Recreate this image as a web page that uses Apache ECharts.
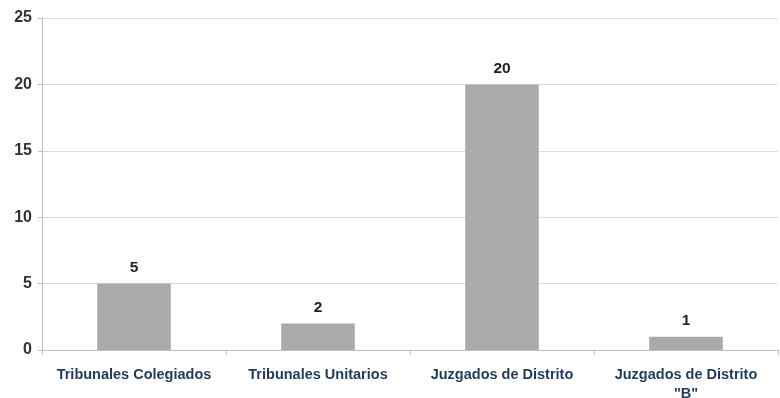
<!DOCTYPE html>
<html><head><meta charset="utf-8">
<script src="https://cdn.jsdelivr.net/npm/echarts@6/dist/echarts.min.js"></script>
<style>html,body{margin:0;padding:0;background:#fff}#c{width:780px;height:398px}</style>
</head><body><div id="c"></div>
<script>
const categories = ['Tribunales Colegiados', 'Tribunales Unitarios', 'Juzgados de Distrito', 'Juzgados de Distrito\n"B"'];
const values = [5, 2, 20, 1];
const yTicks = [0, 5, 10, 15, 20, 25];

const chart = echarts.init(document.getElementById('c'));
chart.setOption({
  animation: false,
  grid: {left: 42, right: 2, top: 18, bottom: 48, outerBoundsMode: 'none', containLabel: false},
  xAxis: {
    type: 'category', data: categories,
    axisLine: {lineStyle: {color: '#bfbfbf', width: 1}},
    axisTick: {show: true, length: 5, lineStyle: {color: '#bfbfbf'}},
    axisLabel: {interval: 0, hideOverlap: false, color: '#1f3b5c', fontWeight: 'bold', fontSize: 14.5, fontFamily: 'Liberation Sans, Arial', margin: 15, lineHeight: 19}
  },
  yAxis: {
    type: 'value', min: yTicks[0], max: yTicks[yTicks.length-1], interval: 5,
    axisLine: {show: true, lineStyle: {color: '#bfbfbf'}},
    axisTick: {show: true, length: 4, lineStyle: {color: '#bfbfbf'}},
    splitLine: {lineStyle: {color: '#dcdcdc'}},
    axisLabel: {color: '#333', fontWeight: 'bold', fontSize: 16, fontFamily: 'Liberation Sans, Arial', margin: 10}
  },
  series: [{
    type: 'bar', data: values, barWidth: '40%',
    itemStyle: {color: '#a8aaac'},
    label: {show: true, position: 'top', color: '#222', fontWeight: 'bold', fontSize: 15.5, fontFamily: 'Liberation Sans, Arial', distance: 8}
  }]
});
</script></body></html>
